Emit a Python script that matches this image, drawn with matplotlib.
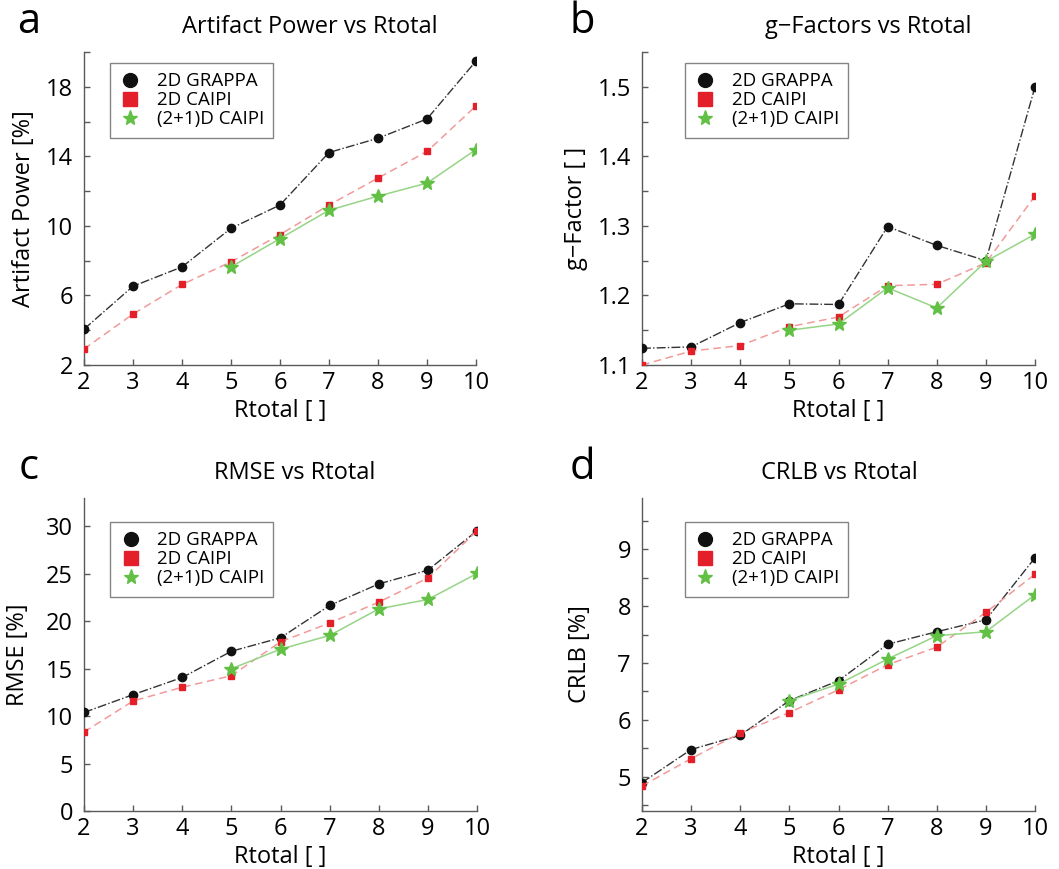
import numpy as np
import matplotlib.pyplot as plt
from matplotlib.lines import Line2D

plt.rcParams['font.family'] = ['Open Sans', 'DejaVu Sans']

# ── data ─────────────────────────────────────────────────────────────────────
rtotal = [2, 3, 4, 5, 6, 7, 8, 9, 10]
rtotal_21d = [5, 6, 7, 8, 9, 10]

art_grappa = [4.06, 6.53, 7.64, 9.86, 11.2, 14.22, 15.04, 16.15, 19.48]
art_caipi = [2.92, 4.93, 6.63, 7.93, 9.5, 11.2, 12.75, 14.28, 16.9]
art_21d = [7.64, 9.27, 10.9, 11.71, 12.46, 14.39]

g_grappa = [1.124, 1.126, 1.161, 1.188, 1.187, 1.299, 1.272, 1.25, 1.5]
g_caipi = [1.1, 1.12, 1.128, 1.155, 1.169, 1.214, 1.216, 1.247, 1.343]
g_21d = [1.15, 1.159, 1.211, 1.182, 1.249, 1.288]

rmse_grappa = [10.39, 12.27, 14.08, 16.84, 18.26, 21.67, 23.94, 25.39, 29.54]
rmse_caipi = [8.33, 11.6, 13.05, 14.26, 17.84, 19.82, 22.02, 24.57, 29.54]
rmse_21d = [15.0, 17.06, 18.51, 21.31, 22.3, 25.04]

crlb_grappa = [4.9, 5.48, 5.73, 6.34, 6.69, 7.33, 7.55, 7.76, 8.85]
crlb_caipi = [4.84, 5.32, 5.77, 6.13, 6.53, 6.97, 7.28, 7.89, 8.56]
crlb_21d = [6.34, 6.63, 7.07, 7.48, 7.55, 8.2]

labels = ["2D GRAPPA", "2D CAIPI", "(2+1)D CAIPI"]

# ── layout (pixels) ──────────────────────────────────────────────────────────
W, H = 1059, 869


def fx(x):
    return x / W


def fy(y):
    return 1 - y / H


panels = [
    dict(letter="a", title="Artifact Power vs Rtotal", ylabel="Artifact Power [%]",
         data=(art_grappa, art_caipi, art_21d), ylim=(2, 20),
         yticks=np.arange(2, 20.1, 2), ylabs=[2, 6, 10, 14, 18],
         box=(84, 52, 476, 365), tpos=(310, 27), lpos=(29, 22), ylx=24,
         leg=(0.066, 0.965), fmt="{:g}"),
    dict(letter="b", title="g\u2212Factors vs Rtotal", ylabel="g\u2212Factor [ ]",
         data=(g_grappa, g_caipi, g_21d), ylim=(1.1, 1.55),
         yticks=np.arange(1.1, 1.551, 0.05), ylabs=[1.1, 1.2, 1.3, 1.4, 1.5],
         box=(642, 52, 1035, 365), tpos=(868, 27), lpos=(582, 22), ylx=576,
         leg=(0.109, 0.965), fmt="{:.1f}"),
    dict(letter="c", title="RMSE vs Rtotal", ylabel="RMSE [%]",
         data=(rmse_grappa, rmse_caipi, rmse_21d), ylim=(0, 33),
         yticks=np.arange(0, 31, 5), ylabs=[0, 5, 10, 15, 20, 25, 30],
         box=(84, 498, 477, 811), tpos=(295, 473), lpos=(29, 468), ylx=18,
         leg=(0.066, 0.923), fmt="{:g}"),
    dict(letter="d", title="CRLB vs Rtotal", ylabel="CRLB [%]",
         data=(crlb_grappa, crlb_caipi, crlb_21d), ylim=(4.4, 9.9),
         yticks=np.arange(4.5, 9.6, 0.5), ylabs=[5, 6, 7, 8, 9],
         box=(642, 498, 1035, 811), tpos=(839, 473), lpos=(582, 468), ylx=580,
         leg=(0.109, 0.923), fmt="{:g}"),
]

red = "#e3202a"
red_line = "#f29a9a"
green = "#62c045"
green_line = "#96d486"
spine_c = "#5a5a5a"

fig = plt.figure(figsize=(W / 100, H / 100), dpi=100)

for p in panels:
    l, t, r, b = p["box"]
    ax = fig.add_axes([fx(l), fy(b), (r - l) / W, (b - t) / H])
    g, c, s = p["data"]

    ax.plot(rtotal, g, linestyle="-.", color="#333333", lw=1.0, marker="o",
            ms=6, mfc="#111111", mec="#111111", zorder=3)
    ax.plot(rtotal, c, linestyle=(0, (5, 3)), color=red_line, lw=1.1, marker="s",
            ms=4.2, mfc=red, mec=red, zorder=4)
    ax.plot(rtotal_21d, s, linestyle="-", color=green_line, lw=1.1, marker="*",
            ms=10, mfc=green, mec=green, zorder=5)

    ax.set_xlim(2, 10)
    ax.set_ylim(*p["ylim"])
    ax.set_xticks(rtotal)
    ax.set_xticklabels([str(v) for v in rtotal])
    ax.set_yticks(p["yticks"])
    ylabs = [p["fmt"].format(v) if any(abs(v - q) < 1e-6 for q in p["ylabs"]) else ""
             for v in p["yticks"]]
    ax.set_yticklabels(ylabs)

    for side in ("top", "right"):
        ax.spines[side].set_visible(False)
    for side in ("left", "bottom"):
        ax.spines[side].set_color(spine_c)
        ax.spines[side].set_linewidth(1.0)
    ax.tick_params(direction="in", length=4, width=1.0, color=spine_c,
                   labelsize=17)
    ax.tick_params(axis="x", pad=4)
    ax.tick_params(axis="y", pad=8)

    fig.text(fx(p["tpos"][0]), fy(p["tpos"][1]), p["title"], ha="center",
             va="center", fontsize=17)
    fig.text(fx(p["lpos"][0]), fy(p["lpos"][1]), p["letter"], ha="center",
             va="center", fontsize=30)
    fig.text(fx(p["ylx"]), fy((t + b) / 2), p["ylabel"], ha="center",
             va="center", rotation=90, fontsize=17)
    fig.text(fx((l + r) / 2), fy(b + 46), "Rtotal [ ]", ha="center",
             va="center", fontsize=17)

    handles = [
        Line2D([], [], ls="none", marker="o", ms=10, mfc="#111111", mec="#111111"),
        Line2D([], [], ls="none", marker="s", ms=10, mfc=red, mec=red),
        Line2D([], [], ls="none", marker="*", ms=11, mfc=green, mec=green),
    ]
    leg = ax.legend(handles, labels, loc="upper left", bbox_to_anchor=p["leg"],
                    borderaxespad=0, fontsize=13.5, frameon=True, fancybox=False,
                    handlelength=1.2, handletextpad=0.8, labelspacing=0.05,
                    borderpad=0.5, edgecolor="#666666")
    leg.get_frame().set_linewidth(1.0)

fig.savefig("out.png", dpi=100)
